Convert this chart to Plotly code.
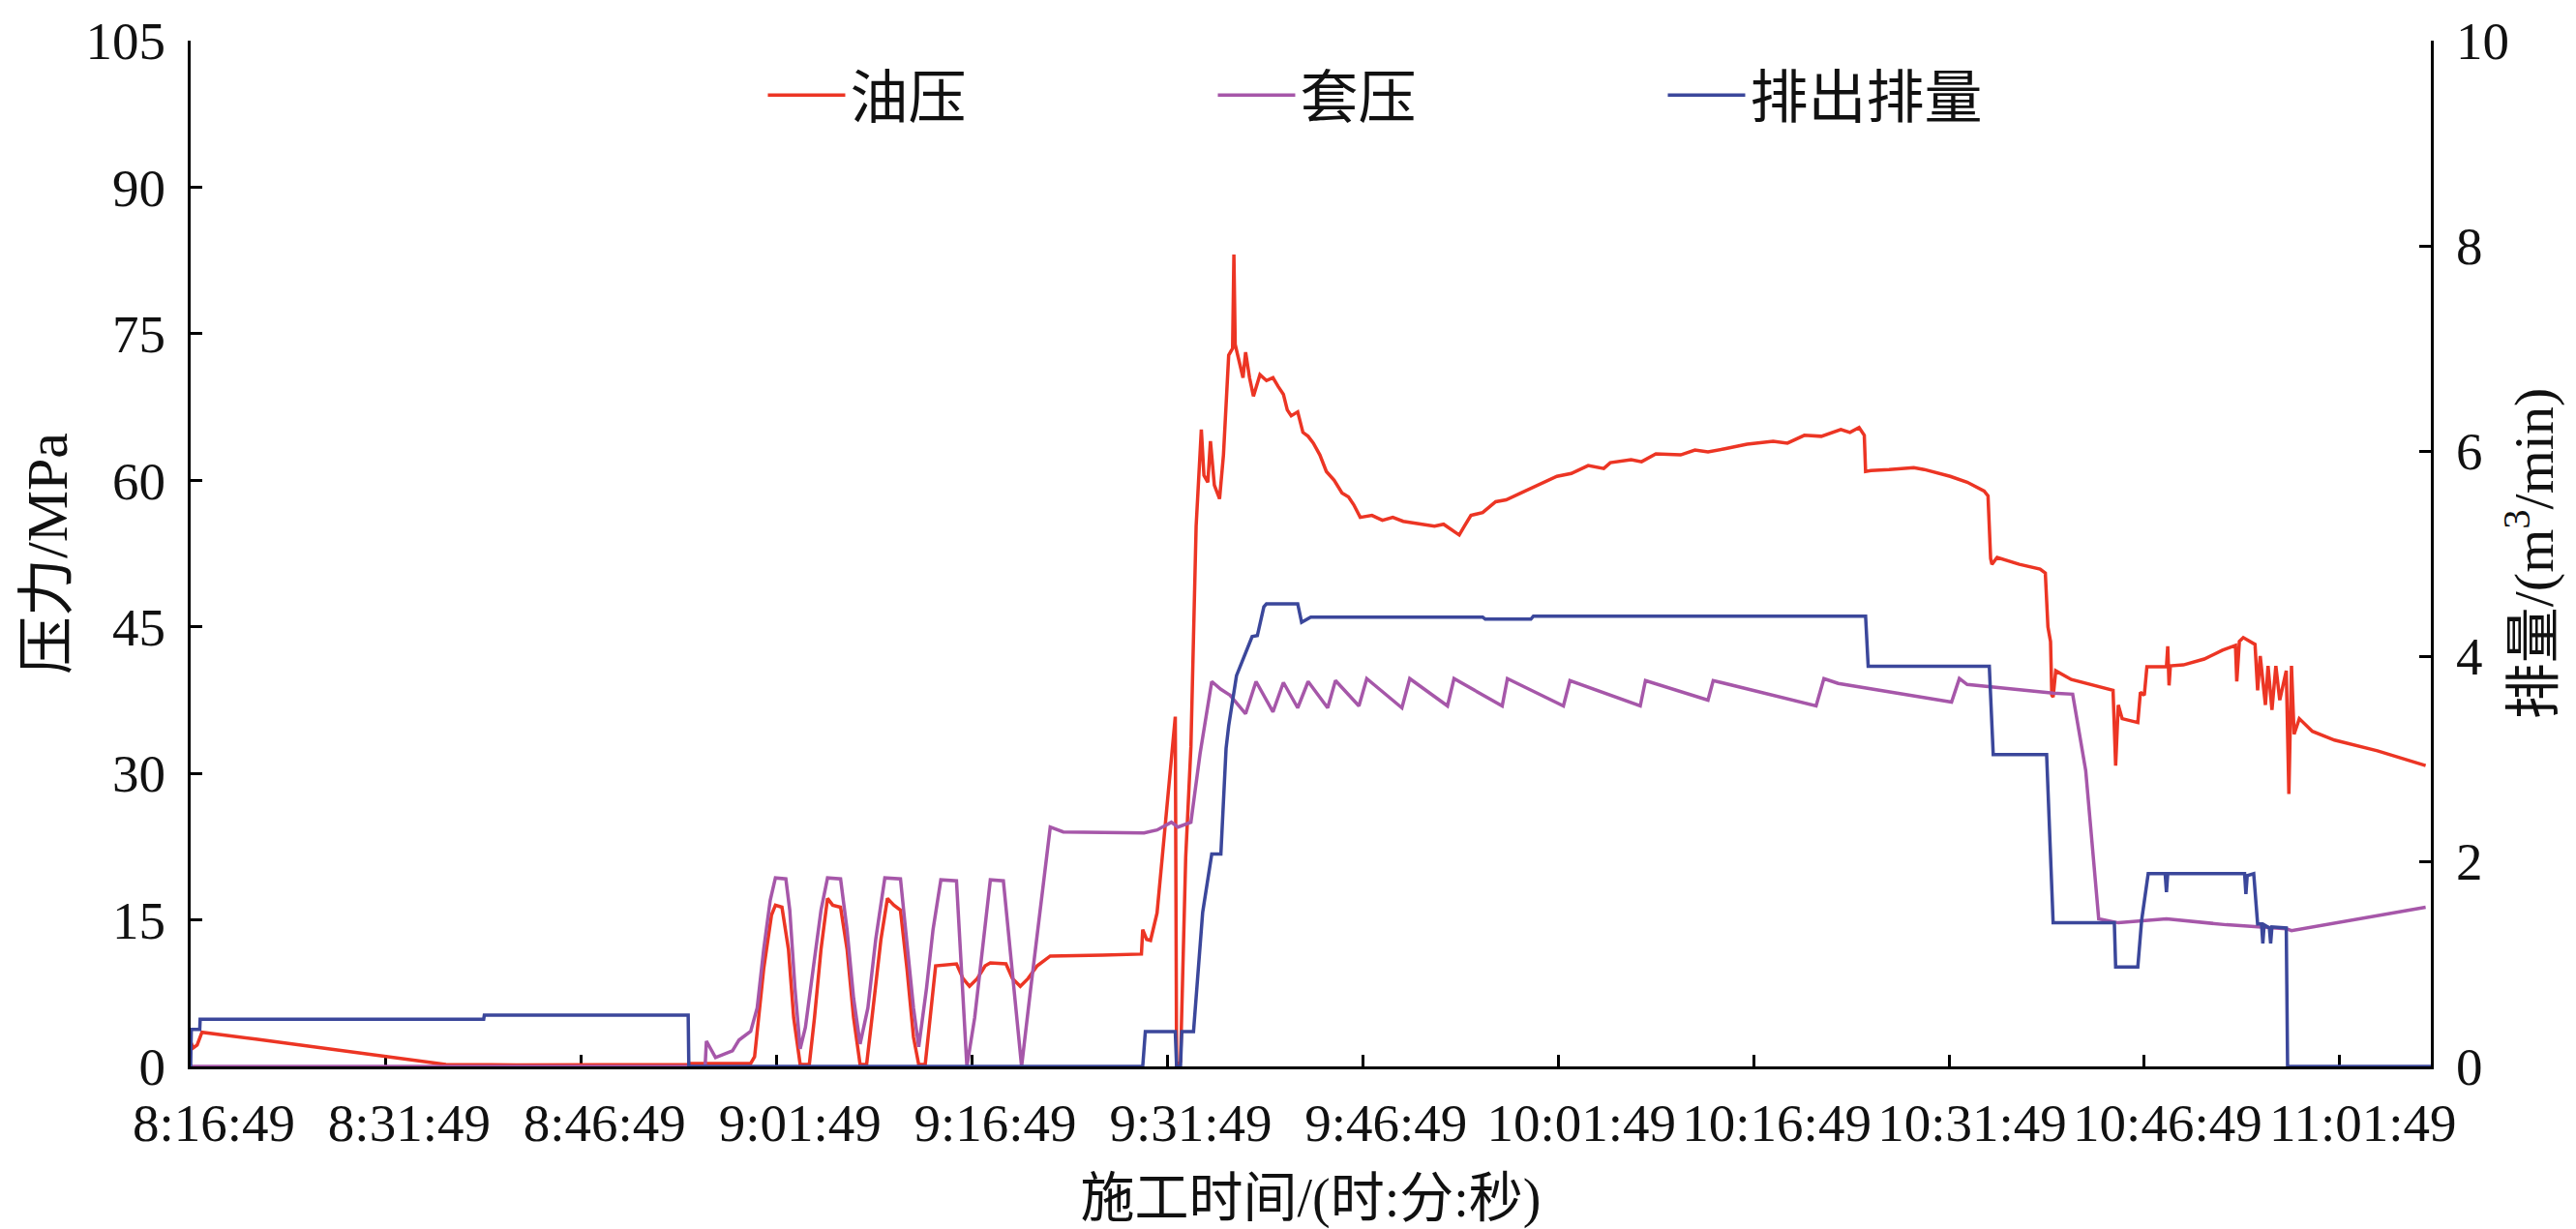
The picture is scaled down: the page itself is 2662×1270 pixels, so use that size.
import plotly.graph_objects as go

# ---------------- data (minutes after 8:16:49) ----------------
tick_minutes = [0, 15, 30, 45, 60, 75, 90, 105, 120, 135, 150, 165]
tick_labels = ["8:16:49", "8:31:49", "8:46:49", "9:01:49", "9:16:49", "9:31:49",
               "9:46:49", "10:01:49", "10:16:49", "10:31:49", "10:46:49", "11:01:49"]

# 油压 (MPa)
oil_t = [0.0, 0.2, 0.5, 0.87, 5, 10, 15, 19.6, 25, 30, 38.3, 38.4, 43.0, 43.3, 44.0, 44.6, 44.9,
         45.4, 45.7, 45.9, 46.3, 46.8, 47.5, 47.9, 48.4, 48.9, 49.3, 49.9, 50.4, 50.9, 51.4, 51.9,
         52.4, 53.0, 53.5, 54.0, 54.5, 55.0, 55.5, 55.9, 56.4, 56.8, 57.2, 58.8, 59.3, 59.8, 60.4,
         61.0, 61.4, 62.6, 63.1, 63.7, 64.3, 65.0, 66.0, 70, 73.0, 73.1, 73.4, 73.7, 74.2, 74.6,
         75.0, 75.4, 75.6, 75.7, 76.0, 76.4, 76.8, 77.0, 77.2, 77.6, 77.8, 78.1, 78.3, 78.6, 79.0,
         79.3, 79.7, 80.0, 80.1, 80.2, 80.5, 80.8, 81.0, 81.3, 81.6, 82.1, 82.6, 83.1, 83.5, 83.9,
         84.2, 84.5, 85.0, 85.4, 85.8, 86.2, 86.7, 87.2, 87.8, 88.4, 88.9, 89.3, 89.8, 90.7, 91.5,
         92.3, 93.1, 94.0, 95.5, 96.2, 97.0, 97.4, 97.8, 98.3, 99.2, 100.2, 101.0, 102.1, 103.5,
         104.9, 106.0, 107.3, 108.5, 109.0, 110.6, 111.4, 112.5, 114.4, 115.5, 116.5, 117.7,
         119.5, 121.5, 122.6, 123.9, 125.2, 126.7, 127.4, 128.1, 128.5, 128.6, 129.0, 130.4,
         132.3, 133.1, 135.1, 136.4, 137.7, 138.0, 138.2, 138.3, 138.7, 140.4, 142.0, 142.4,
         142.6, 142.8, 142.9, 143.0, 143.2, 144.4, 146.4, 147.6, 147.8, 148.0, 148.3, 149.5,
         149.7, 150.0, 150.2, 151.7, 151.8, 151.9, 152.0, 153.0, 154.6, 156.0, 157.0, 157.1,
         157.3, 157.6, 158.5, 158.7, 158.9, 159.3, 159.5, 159.8, 160.1, 160.4, 160.9, 161.1,
         161.3, 161.5, 161.9, 162.9, 164.6, 167.9, 171.6]
oil_p = [2.5, 1.9, 2.2, 3.5, 2.8, 1.9, 1.0, 0.2, 0.15, 0.2, 0.2, 0.3, 0.3, 1.0, 10, 15.5, 16.5,
         16.3, 14, 12, 5, 0.2, 0.2, 5, 12, 17.2, 16.5, 16.3, 12, 5, 0.2, 0.2,
         6, 13, 17.2, 16.5, 16.0, 10, 3, 0.2, 0.2, 5, 10.3, 10.5, 9, 8.2, 9.0,
         10.3, 10.6, 10.5, 9.0, 8.2, 9.0, 10.3, 11.3, 11.4, 11.5, 14.0, 13.0, 12.9, 15.7, 21.4,
         27.0, 33.0, 35.8, 0, 0.5, 21.4, 32.7, 44.0, 55.3, 65.2, 60.5, 59.8, 64.0, 59.5, 58.1,
         62.6, 72.8, 73.5, 83.1, 73.9, 72, 70.5, 73.1, 70.5, 68.6, 70.8, 70.2, 70.5, 69.6, 68.8,
         67.2, 66.6, 67.0, 64.9, 64.5, 63.8, 62.6, 60.9, 60.0, 58.7, 58.3, 57.5, 56.2, 56.4, 55.9,
         56.2, 55.8, 55.6, 55.3, 55.5, 54.8, 54.4, 55.3, 56.4, 56.7, 57.8, 58.0, 58.7, 59.6,
         60.4, 60.7, 61.5, 61.2, 61.8, 62.1, 61.9, 62.7, 62.6, 63.1, 62.9, 63.2,
         63.7, 64.0, 63.8, 64.6, 64.5, 65.2, 64.9, 65.4, 64.6, 60.9, 61.0, 61.1,
         61.3, 61.1, 60.4, 59.8, 58.9, 58.4, 52, 51.4, 52.1, 51.4, 50.9, 50.5,
         45, 43.5, 38, 37.8, 40.5, 39.6, 38.9, 38.5, 30.8, 37, 35.6, 35.2,
         38.3, 38, 40.9, 40.9, 43, 39, 41, 41.1, 41.7, 42.6, 43.1, 39.4,
         43.5, 43.9, 43.2, 38.5, 42, 37, 41, 36.5, 41, 37.5, 40.5, 27.9,
         41, 34, 35.6, 34.3, 33.4, 32.3, 30.8]

# 套压 (MPa)
casing_t = [0, 39.5, 39.6, 40.3, 41.6, 42.1, 43.0, 43.5, 44.0, 44.5, 44.9, 45.7, 46.0, 46.4, 46.8,
            47.2, 47.8, 48.4, 48.9, 49.9, 50.4, 50.9, 51.4, 52.0, 52.6, 53.3, 54.5, 55.0, 55.5,
            55.9, 56.5, 57.0, 57.6, 58.8, 59.2, 59.6, 60.2, 60.8, 61.4, 62.4, 62.9, 63.4, 63.8,
            64.5, 65.3, 66.0, 67, 73.2, 74.2, 75.3, 75.8, 76.8, 77.5, 78.4, 79.1, 79.8, 81.0,
            81.8, 83.1, 83.9, 85.0, 85.8, 87.3, 87.9, 89.7, 90.3, 93.0, 93.6, 96.5, 97.0, 100.7,
            101.1, 105.4, 105.9, 111.3, 111.7, 116.5, 116.9, 124.8, 125.4, 126.5, 135.2, 135.8,
            136.4, 143.0, 144.5, 145.5, 146.5, 148.0, 151.7, 156.3, 160.9, 161.3, 171.6]
casing_p = [0, 0, 2.6, 0.9, 1.6, 2.7, 3.6, 6, 12, 17, 19.3, 19.2, 16, 8, 1.8,
            4, 10, 16, 19.3, 19.2, 14, 7, 2.3, 6, 13, 19.3, 19.2, 13, 6,
            2.0, 8, 14, 19.1, 19.0, 9, 0, 5, 12, 19.1, 19.0, 12, 5, 0,
            8, 17, 24.5, 24.0, 23.9, 24.2, 25.0, 24.5, 25.0, 32, 39.4, 38.6, 38.0, 36.1,
            39.4, 36.3, 39.3, 36.7, 39.4, 36.7, 39.5, 36.9, 39.7, 36.7, 39.7, 36.9, 39.7, 36.9,
            39.7, 36.9, 39.5, 36.9, 39.5, 37.5, 39.5, 36.9, 39.7, 39.2, 37.3, 39.7,
            39.1, 38.2, 38.1, 30.3, 15.1, 14.7, 15.1, 14.5, 14.1, 13.9, 16.3]

# 排出排量 (m3/min)
rate_t = [0, 0.05, 0.7, 0.73, 22.5, 22.55, 38.2, 38.25, 73.1, 73.3, 75.6, 75.7, 76.0, 76.1, 77.0,
          77.4, 77.7, 78.4, 79.1, 79.5, 79.7, 80.3, 80.8, 81.5, 81.9, 82.4, 82.6, 85.0, 85.3,
          86.0, 99.2, 99.4, 102.9, 103.1, 128.6, 128.8, 138.1, 138.4, 142.5, 143.0, 147.7, 147.8,
          149.5, 149.8, 150.3, 151.6, 151.7, 151.8, 157.7, 157.8, 157.9, 158.4, 158.7, 159.0,
          159.1, 159.2, 159.6, 159.7, 159.8, 160.9, 161.0, 172]
rate_q = [0, 0.36, 0.36, 0.46, 0.46, 0.50, 0.50, 0, 0, 0.34, 0.34, 0, 0, 0.34, 0.34,
          0.96, 1.50, 2.07, 2.07, 3.1, 3.32, 3.81, 3.97, 4.19, 4.2, 4.48, 4.51, 4.51, 4.33,
          4.38, 4.38, 4.36, 4.36, 4.39, 4.39, 3.90, 3.90, 3.04, 3.04, 1.40, 1.40, 0.97,
          0.97, 1.43, 1.88, 1.88, 1.70, 1.88, 1.88, 1.68, 1.86, 1.88, 1.39, 1.39,
          1.20, 1.38, 1.35, 1.20, 1.36, 1.35, 0, 0]

series_names = ["油压", "套压", "排出排量"]
series_colors = ["#EC3524", "#A657A9", "#3B479B"]

# ---------------- figure ----------------
FONT = "Liberation Serif, 'Noto Sans CJK SC', serif"

fig = go.Figure()
fig.add_trace(go.Scatter(x=oil_t, y=oil_p, name=series_names[0], mode="lines",
                         line=dict(color=series_colors[0], width=3.5)))
fig.add_trace(go.Scatter(x=casing_t, y=casing_p, name=series_names[1], mode="lines",
                         line=dict(color=series_colors[1], width=3.5)))
fig.add_trace(go.Scatter(x=rate_t, y=rate_q, name=series_names[2], mode="lines", yaxis="y2",
                         line=dict(color=series_colors[2], width=3.5)))

axis_common = dict(showline=True, linecolor="black", linewidth=3, ticks="inside",
                   ticklen=12, tickwidth=2.5, tickcolor="black", showgrid=False,
                   zeroline=False, layer="below traces",
                   tickfont=dict(family=FONT, size=55, color="#111"))

fig.update_layout(
    width=2662, height=1270,
    margin=dict(l=197, r=150, t=39, b=164),
    paper_bgcolor="white", plot_bgcolor="white",
    font=dict(family=FONT, color="#111"),
    showlegend=True,
    legend=dict(orientation="h", x=0.2555, xanchor="left", y=0.947, yanchor="middle",
                font=dict(family=FONT, size=60, color="#111"), itemwidth=80,
                bgcolor="rgba(0,0,0,0)", entrywidth=370, entrywidthmode="pixels"),
    xaxis=dict(range=[0, 172], tickvals=tick_minutes, ticktext=tick_labels, tickangle=0,
               ticklabelshift=24, ticklabelstandoff=8,
               title=dict(text="施工时间/(时:分:秒)", font=dict(family=FONT, size=56), standoff=28),
               **axis_common),
    yaxis=dict(range=[0, 105], tickvals=[0, 15, 30, 45, 60, 75, 90, 105], ticklabelstandoff=12,
               title=dict(text="压力/MPa", font=dict(family=FONT, size=60), standoff=0),
               **axis_common),
    yaxis2=dict(range=[0, 10], tickvals=[0, 2, 4, 6, 8, 10], overlaying="y", side="right",
                ticklabelstandoff=12,
                title=dict(text="排量/(m<sup>3</sup>/min)", font=dict(family=FONT, size=58), standoff=6),
                **axis_common),
)

fig.write_html("out.html", config={"displayModeBar": False},
               post_script="document.body.style.margin='0';")
